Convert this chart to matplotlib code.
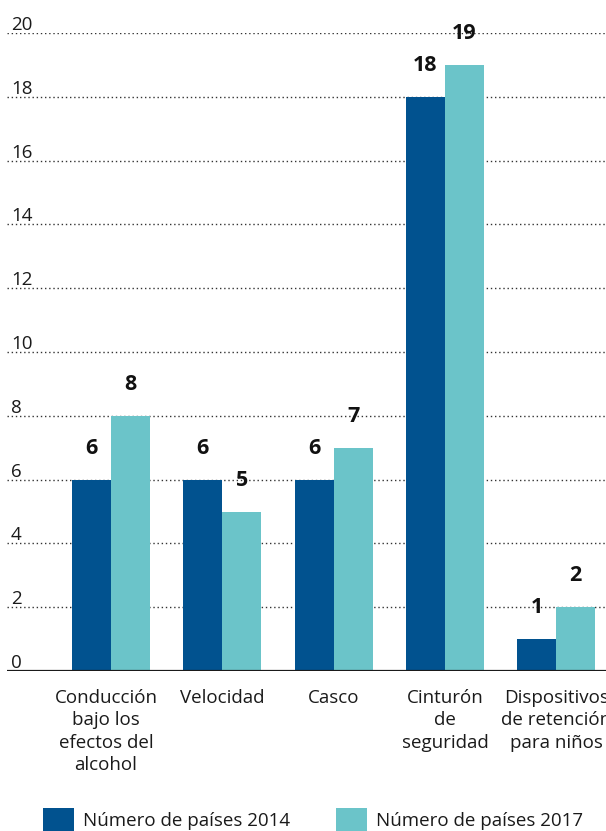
import matplotlib
matplotlib.use("Agg")
import matplotlib.pyplot as plt
import matplotlib.transforms as mtransforms
import numpy as np

plt.rcParams['font.family'] = ['Open Sans', 'DejaVu Sans']

# Data
categories = [
    "Conducción\nbajo los\nefectos del\nalcohol",
    "Velocidad",
    "Casco",
    "Cinturón\nde\nseguridad",
    "Dispositivos\nde retención\npara niños",
]
paises_2014 = [6, 6, 6, 18, 1]
paises_2017 = [8, 5, 7, 19, 2]
series_labels = ["Número de países 2014", "Número de países 2017"]
y_ticks = [0, 2, 4, 6, 8, 10, 12, 14, 16, 18, 20]

color_2014 = "#01528F"
color_2017 = "#6BC4C9"
text_color = "#1a1a1a"

W, H = 606, 831
DPI = 100
fig = plt.figure(figsize=(W / DPI, H / DPI), dpi=DPI)

# Axes placed in pixel units
ax_left, ax_right = 7, 606
ax_bottom, ax_top = 671, 33
ax = fig.add_axes([ax_left / W, (H - ax_bottom) / H,
                   (ax_right - ax_left) / W, (ax_bottom - ax_top) / H])

group_px = 111.3
first_center_px = 111
x = np.arange(len(categories))
bar_w = 39 / group_px

ax.set_xlim(-(first_center_px - ax_left) / group_px,
            (ax_right - first_center_px) / group_px)
ax.set_ylim(0, 20)

# Dotted gridlines behind the bars
for t in y_ticks[1:]:
    ax.axhline(t, color="#333333", linestyle=(0, (1, 2)), linewidth=1.0, zorder=0)
ax.axhline(0, color=text_color, linewidth=1.6, zorder=3)

b1 = ax.bar(x - bar_w / 2, paises_2014, width=bar_w, color=color_2014,
            zorder=2, label=series_labels[0])
b2 = ax.bar(x + bar_w / 2, paises_2017, width=bar_w, color=color_2017,
            zorder=2, label=series_labels[1])

# Y tick labels sit just above each gridline at the left edge
tick_tr = ax.get_yaxis_transform() + mtransforms.ScaledTranslation(4 / DPI, 3 / DPI, fig.dpi_scale_trans)
for t in y_ticks:
    ax.text(0, t, str(t), transform=tick_tr, ha="left", va="baseline",
            fontsize=13.5, color=text_color)

# Value labels above bars
val_tr = ax.transData + mtransforms.ScaledTranslation(0, 26 / DPI, fig.dpi_scale_trans)
for xi, v in zip(x - bar_w / 2, paises_2014):
    ax.text(xi, v, str(v), transform=val_tr, ha="center", va="baseline",
            fontsize=15.5, fontweight="bold", color="#111111", clip_on=False)
for xi, v in zip(x + bar_w / 2, paises_2017):
    ax.text(xi, v, str(v), transform=val_tr, ha="center", va="baseline",
            fontsize=15.5, fontweight="bold", color="#111111", clip_on=False)

# Category labels (the first, multi-line label is nudged slightly left)
label_shift_px = [-5, 0, 0, 0, 0]
for xi, c, dx in zip(x, categories, label_shift_px):
    cat_tr = ax.get_xaxis_transform() + mtransforms.ScaledTranslation(
        dx / DPI, -18 / DPI, fig.dpi_scale_trans)
    ax.text(xi, 0, c, transform=cat_tr, ha="center", va="top", fontsize=13.5,
            color=text_color, linespacing=1.32, multialignment="center")

for s in ax.spines.values():
    s.set_visible(False)
ax.set_xticks([])
ax.set_yticks([])

fig.legend(handles=[b1, b2], labels=series_labels, loc="center left",
           bbox_to_anchor=(43 / W, (H - 820) / H), ncol=2, frameon=False,
           fontsize=13.5, handlelength=1.65, handleheight=1.65, handletextpad=0.48,
           columnspacing=2.45, borderpad=0, borderaxespad=0,
           labelcolor=text_color)

fig.savefig("out.png", dpi=DPI)
